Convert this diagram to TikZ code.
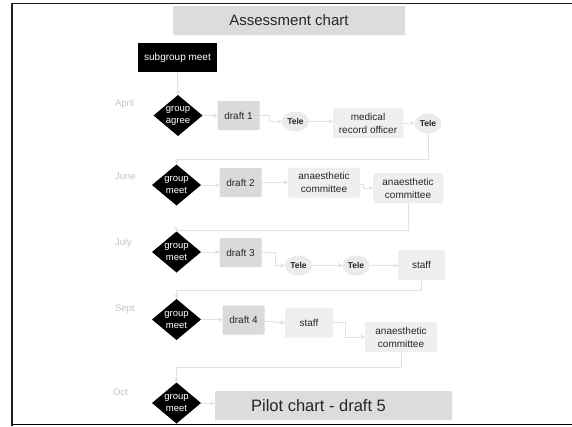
\documentclass[tikz,border=0pt]{standalone}
\usepackage{fontspec}
\setmainfont{Liberation Sans}
\usetikzlibrary{shapes.geometric,arrows.meta,positioning}

\definecolor{frameline}{HTML}{1E1E1E}
\definecolor{baseline}{HTML}{D4D4D4}
\definecolor{conn}{HTML}{E2E2E2}
\definecolor{headfill}{HTML}{DCDCDC}
\definecolor{draftfill}{HTML}{DADADA}
\definecolor{stepfill}{HTML}{EFEFEF}
\definecolor{telefill}{HTML}{EBEBEB}
\definecolor{monthtext}{HTML}{C4C4C4}
\definecolor{bodytext}{HTML}{262626}

\newcommand{\fsz}[2]{\fontsize{#1}{#2}\selectfont}

\tikzset{
  every node/.style={inner sep=0pt, outer sep=0pt},
  headbox/.style={rectangle, rounded corners=1pt, fill=headfill, text=bodytext,
    minimum width=#1, minimum height=29pt, font=\fsz{15}{18}},
  blackbox/.style={rectangle, fill=black, text=white, minimum width=79pt,
    minimum height=29pt, font=\fsz{10}{12}},
  gdtext/.style={text=white, align=center, font=\fsz{9.5}{12}},
  gdia/.style={diamond, fill=black, minimum width=49pt, minimum height=41pt,
    label={[gdtext]center:#1}},
  draftbox/.style={rectangle, rounded corners=1pt, fill=draftfill, text=bodytext,
    minimum width=42pt, minimum height=29pt, font=\fsz{10}{12}},
  stepbox/.style={rectangle, rounded corners=1pt, fill=stepfill, text=bodytext,
    minimum width=#1, minimum height=30pt, align=center, font=\fsz{10}{13}},
  tele/.style={ellipse, fill=telefill, text=bodytext, minimum width=27pt,
    minimum height=20pt, font=\bfseries\fsz{8.5}{10}},
  month/.style={anchor=west, text=monthtext, font=\fsz{9.5}{12}},
  link/.style={draw=conn, line width=1pt,
    -{Stealth[length=4.5pt,width=4.5pt,fill=conn]}},
}

\begin{document}
\begin{tikzpicture}[x=1pt, y=-1pt]
  \useasboundingbox (0,0) rectangle (572,426);
  \fill[white] (0,0) rectangle (572,426);

  % page frame
  \draw[frameline, line width=1.4pt] (12,426) -- (12,3.5) -- (572,3.5);
  \draw[baseline, line width=1pt] (12,424.8) -- (572,424.8);

  % heading and start
  \node[headbox=232pt] (title) at (289,20.5) {Assessment chart};
  \node[blackbox] (sub) at (177.5,57.5) {subgroup meet};

  % month labels
  \node[month] (april) at (115,104) {April};
  \node[month] (june)  at (115,176) {June};
  \node[month] (july)  at (115,243) {July};
  \node[month] (sept)  at (115,309) {Sept};
  \node[month] (oct)   at (113,392) {Oct};

  % April row
  \node[gdia={group\\agree}] (d1) at (178,115.5) {};
  \node[draftbox] (dr1) at (238.5,115.5) {draft 1};
  \node[tele] (t1a) at (295.5,121.5) {Tele};
  \node[stepbox=70pt] (mro) at (368,123) {medical\\record officer};
  \node[tele] (t1b) at (428,123.5) {Tele};

  % June row
  \node[gdia={group\\meet}] (d2) at (176.5,185) {};
  \node[draftbox] (dr2) at (240.5,182.5) {draft 2};
  \node[stepbox=72pt] (ac2a) at (324,182.5) {anaesthetic\\committee};
  \node[stepbox=70pt] (ac2b) at (408,188) {anaesthetic\\committee};

  % July row
  \node[gdia={group\\meet}] (d3) at (176.5,252) {};
  \node[draftbox] (dr3) at (240.5,252.5) {draft 3};
  \node[tele] (t3a) at (298.5,265.5) {Tele};
  \node[tele] (t3b) at (356,265.5) {Tele};
  \node[stepbox=47pt] (st3) at (421.5,265) {staff};

  % September row
  \node[gdia={group\\meet}] (d4) at (176.5,319.5) {};
  \node[draftbox] (dr4) at (243.5,320) {draft 4};
  \node[stepbox=48pt] (st4) at (309,322.5) {staff};
  \node[stepbox=72pt] (ac4) at (401,337) {anaesthetic\\committee};

  % October row: the caption sits left of the box centre
  \node[gdia={group\\meet}] (d5) at (176.5,403) {};
  \node[headbox=237pt, font=\fsz{16.5}{19}] (pilot) at (333.5,405.5)
    {Pilot chart - draft 5\kern30pt\mbox{}};

  % connectors
  \draw[link] (sub) -- (d1);
  \draw[link] (d1) -- (dr1.west |- d1.east);
  \draw[link] (dr1.east) -- ++(10,0) |- (t1a.west);
  \draw[link] (t1a.east) -- (mro.west |- t1a.east);
  \draw[link] (mro.east) -- (t1b.west |- mro.east);
  \draw[link] (t1b.south) -- ++(0,25.5) -| (d2.north);

  \draw[link] (d2.east) -- (dr2.west |- d2.east);
  \draw[link] (dr2.east) -- (ac2a.west);
  \draw[link] (ac2a.east |- 0,184) -- ++(3.5,0) |- (ac2b.west);
  \draw[link] (ac2b.south) -- ++(0,27) -| (d3.north);

  \draw[link] (d3.east) -- (dr3.west |- d3.east);
  \draw[link] (dr3.east) -- ++(14,0) |- (t3a.west);
  \draw[link] (t3a.east) -- (t3b.west);
  \draw[link] (t3b.east) -- (st3.west |- t3b.east);
  \draw[link] (st3.south) -- ++(0,10) -| (d4.north);

  \draw[link] (d4.east) -- (dr4.west |- d4.east);
  \draw[link] (dr4.east |- 0,321) -- ++(10,0) |- (st4.west);
  \draw[link] (st4.east) -- ++(12,0) |- (ac4.west);
  \draw[link] (ac4.south) -- ++(0,15) -| (d5.north);

  \draw[link] (d5.east) -- (pilot.west |- d5.east);
\end{tikzpicture}
\end{document}
